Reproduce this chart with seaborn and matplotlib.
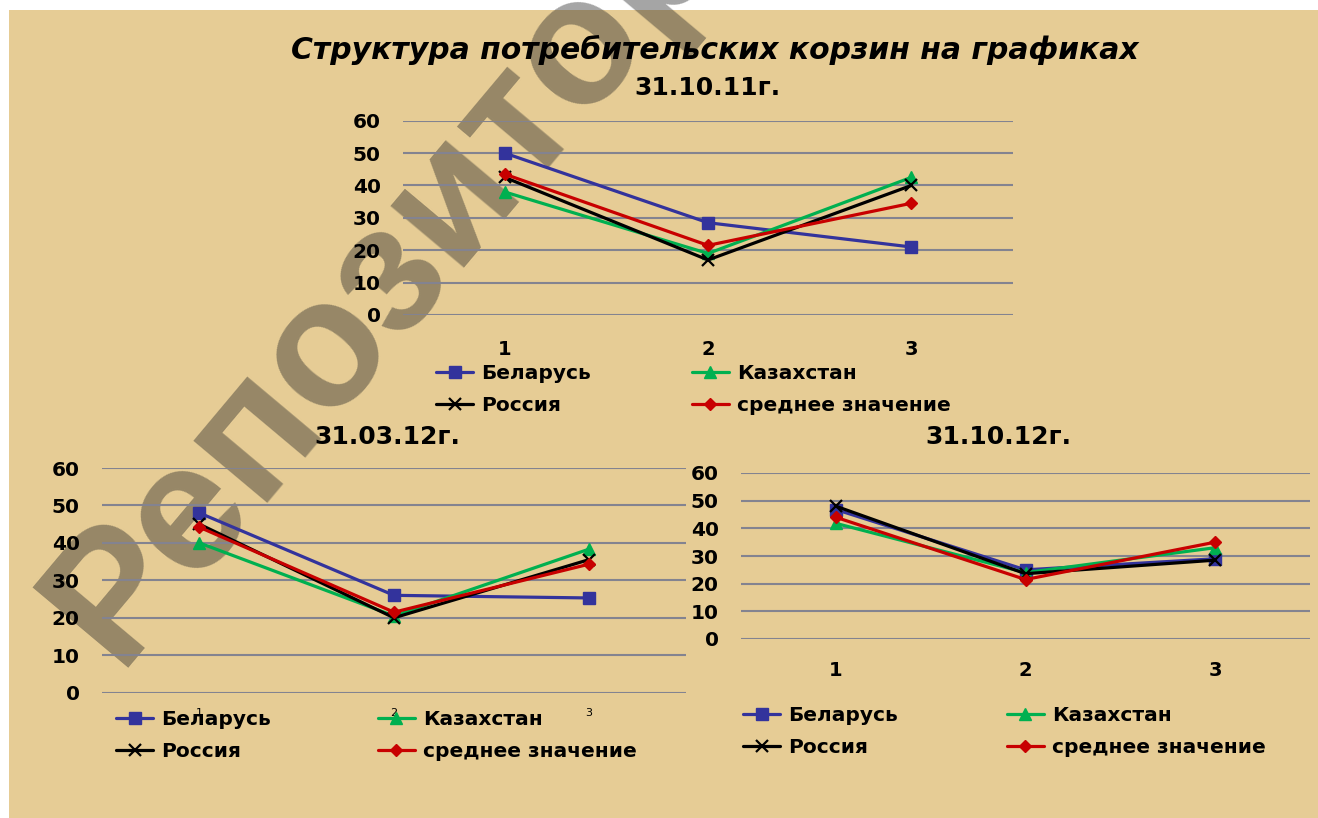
import matplotlib
matplotlib.use("Agg")
import matplotlib.pyplot as plt
from matplotlib.patches import Rectangle
import seaborn as sns

# ---- data -------------------------------------------------------------
cats = [1, 2, 3]
series_names = ["Беларусь", "Казахстан", "Россия", "среднее значение"]

belarus_1 = [50, 28.5, 21]
kazakh_1 = [38, 19, 42.5]
russia_1 = [42.5, 17, 40]
mean_1 = [43.5, 21.5, 34.5]

belarus_2 = [48, 26, 25.3]
kazakh_2 = [40, 20.5, 38.3]
russia_2 = [45, 20, 35.5]
mean_2 = [44.2, 21.5, 34.3]

belarus_3 = [46.8, 25, 29]
kazakh_3 = [41.8, 24, 33]
russia_3 = [48, 23.6, 28.5]
mean_3 = [44, 21.5, 35]

yticks = [0, 10, 20, 30, 40, 50, 60]
main_title = "Структура потребительских корзин на графиках"
chart_titles = ["31.10.11г.", "31.03.12г.", "31.10.12г."]
watermark = "Репозиторий"

# ---- style -------------------------------------------------------------
sns.set_theme(style="white")
plt.rcParams["font.family"] = ["DejaVu Sans"]
plt.rcParams["text.color"] = "black"
plt.rcParams["xtick.color"] = "black"
plt.rcParams["ytick.color"] = "black"

W, H = 1318, 818
colors = ["#33339C", "#00B050", "#000000", "#C80000"]
markers = ["s", "^", "x", "D"]
msizes = [9, 9, 9, 6]
parchment = "#E6CC95"
grid_color = "#838390"

fig = plt.figure(figsize=(W / 100, H / 100), dpi=100, facecolor="white")
fig.patches.append(Rectangle((9 / W, 0), 1 - 9 / W, 1 - 10 / H,
                             transform=fig.transFigure, facecolor=parchment,
                             edgecolor="none", zorder=-10))


def fx(x):
    return x / W


def fy(y):
    return 1 - y / H


def make_axes(left, right, top, bottom):
    return fig.add_axes([fx(left), fy(bottom), (right - left) / W, (bottom - top) / H])


def draw_chart(ax, series, xt_size, xt_weight, xt_pad):
    for name, vals, c, m, ms in zip(series_names, series, colors, markers, msizes):
        sns.lineplot(x=cats, y=vals, ax=ax, color=c, marker=m, markersize=ms,
                     linewidth=2.3, markeredgecolor=c,
                     markeredgewidth=1.6 if m == "x" else 1.0, label=name)
    ax.set_facecolor("none")
    ax.set_ylim(0, 60)
    ax.set_xlim(0.5, 3.5)
    ax.set_yticks(yticks)
    ax.set_xticks(cats)
    ax.set_xticklabels([str(c) for c in cats])
    ax.set_xlabel("")
    ax.set_ylabel("")
    for s in ax.spines.values():
        s.set_visible(False)
    ax.yaxis.grid(True, color=grid_color, linewidth=1.5)
    ax.xaxis.grid(False)
    ax.set_axisbelow(True)
    ax.tick_params(axis="y", length=0, pad=16, labelsize=14.5)
    for t in ax.get_yticklabels():
        t.set_fontweight("bold")
    ax.tick_params(axis="x", length=0, pad=xt_pad, labelsize=xt_size)
    for t in ax.get_xticklabels():
        t.set_fontweight(xt_weight)


def add_legend(ax, x, y, colsp):
    lines = ax.get_lines()
    order = [0, 2, 1, 3]
    handles = [lines[i] for i in order]
    labels = [series_names[i] for i in order]
    ax.legend(handles, labels, ncol=2, loc="upper left",
              bbox_to_anchor=(fx(x), fy(y)), bbox_transform=fig.transFigure,
              frameon=False, borderpad=0, borderaxespad=0,
              handlelength=1.85, handletextpad=0.4, columnspacing=colsp,
              labelspacing=0.65, prop={"size": 14.5, "weight": "bold"})


# chart 1 (top)
ax1 = make_axes(403, 1013, 120.7, 315)
draw_chart(ax1, [belarus_1, kazakh_1, russia_1, mean_1], 14, "bold", 18)
add_legend(ax1, 436, 364, 5.0)

# chart 2 (bottom left)
ax2 = make_axes(102, 686, 468, 692.7)
draw_chart(ax2, [belarus_2, kazakh_2, russia_2, mean_2], 8, "normal", 11)
add_legend(ax2, 116, 710, 5.3)

# chart 3 (bottom right)
ax3 = make_axes(741, 1310, 473, 639)
draw_chart(ax3, [belarus_3, kazakh_3, russia_3, mean_3], 14, "bold", 16)
add_legend(ax3, 743, 706, 5.4)

# titles
fig.text(fx(715), fy(50), main_title, ha="center", va="center",
         fontsize=21.5, fontweight="bold", fontstyle="italic")
fig.text(fx(707), fy(88), chart_titles[0], ha="center", va="center",
         fontsize=18, fontweight="bold")
fig.text(fx(387), fy(437), chart_titles[1], ha="center", va="center",
         fontsize=18, fontweight="bold")
fig.text(fx(998), fy(437), chart_titles[2], ha="center", va="center",
         fontsize=18, fontweight="bold")

# diagonal watermark behind the charts
fig.text(fx(117), fy(668), watermark, rotation=50, rotation_mode="anchor",
         ha="left", va="baseline", fontsize=130, fontweight="bold",
         family=["Liberation Sans", "DejaVu Sans"],
         color="#282828", alpha=0.42, zorder=-5)

fig.savefig("out.png", dpi=100, facecolor=fig.get_facecolor())
